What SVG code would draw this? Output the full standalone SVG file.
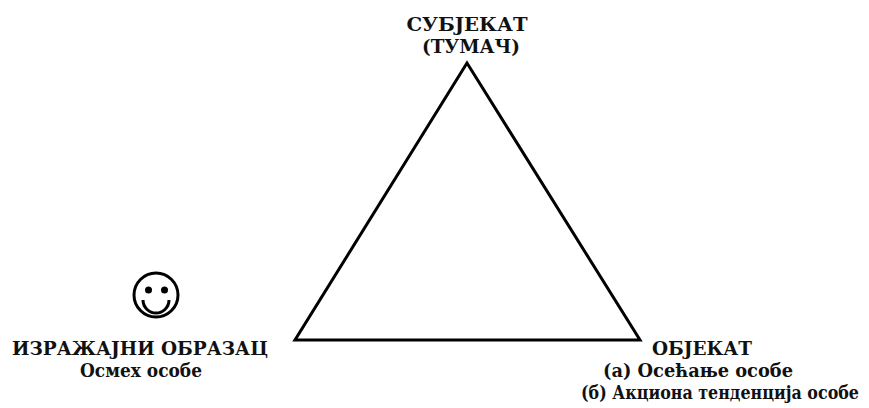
<svg xmlns="http://www.w3.org/2000/svg" width="869" height="408" viewBox="0 0 869 408">
<style>
text{font-family:"DejaVu Serif",serif;font-weight:bold;font-size:19px;fill:#111;text-anchor:middle;}
.edge{fill:none;stroke:#000;stroke-width:3;stroke-linejoin:miter;}
.face{fill:none;stroke:#000;stroke-width:3;}
</style>
<rect width="869" height="408" fill="#fff"/>
<g id="connectors">
<path class="edge" d="M467,63 L295,340 L640,340 Z"/>
</g>
<g id="subject">
<text x="467" y="31" textLength="121" lengthAdjust="spacingAndGlyphs">СУБЈЕКАТ</text>
<text x="471" y="53" textLength="98" lengthAdjust="spacingAndGlyphs">(ТУМАЧ)</text>
</g>
<g id="expressive">
<circle class="face" cx="156" cy="295" r="22"/>
<circle cx="148.5" cy="290" r="3.5" fill="#000"/>
<circle cx="164.5" cy="290" r="3.5" fill="#000"/>
<path class="face" d="M143,300 A13,13 0 0 0 169,300"/>
<text x="140" y="355" textLength="256" lengthAdjust="spacingAndGlyphs">ИЗРАЖАЈНИ ОБРАЗАЦ</text>
<text x="141" y="377" textLength="122" lengthAdjust="spacingAndGlyphs">Осмех особе</text>
</g>
<g id="object">
<text x="702" y="355" textLength="100" lengthAdjust="spacingAndGlyphs">ОБЈЕКАТ</text>
<text x="698" y="377" textLength="190" lengthAdjust="spacingAndGlyphs">(а) Осећање особе</text>
<text x="720" y="399" font-size="17" textLength="278" lengthAdjust="spacingAndGlyphs">(б) Акциона тенденција особе</text>
</g>
</svg>
